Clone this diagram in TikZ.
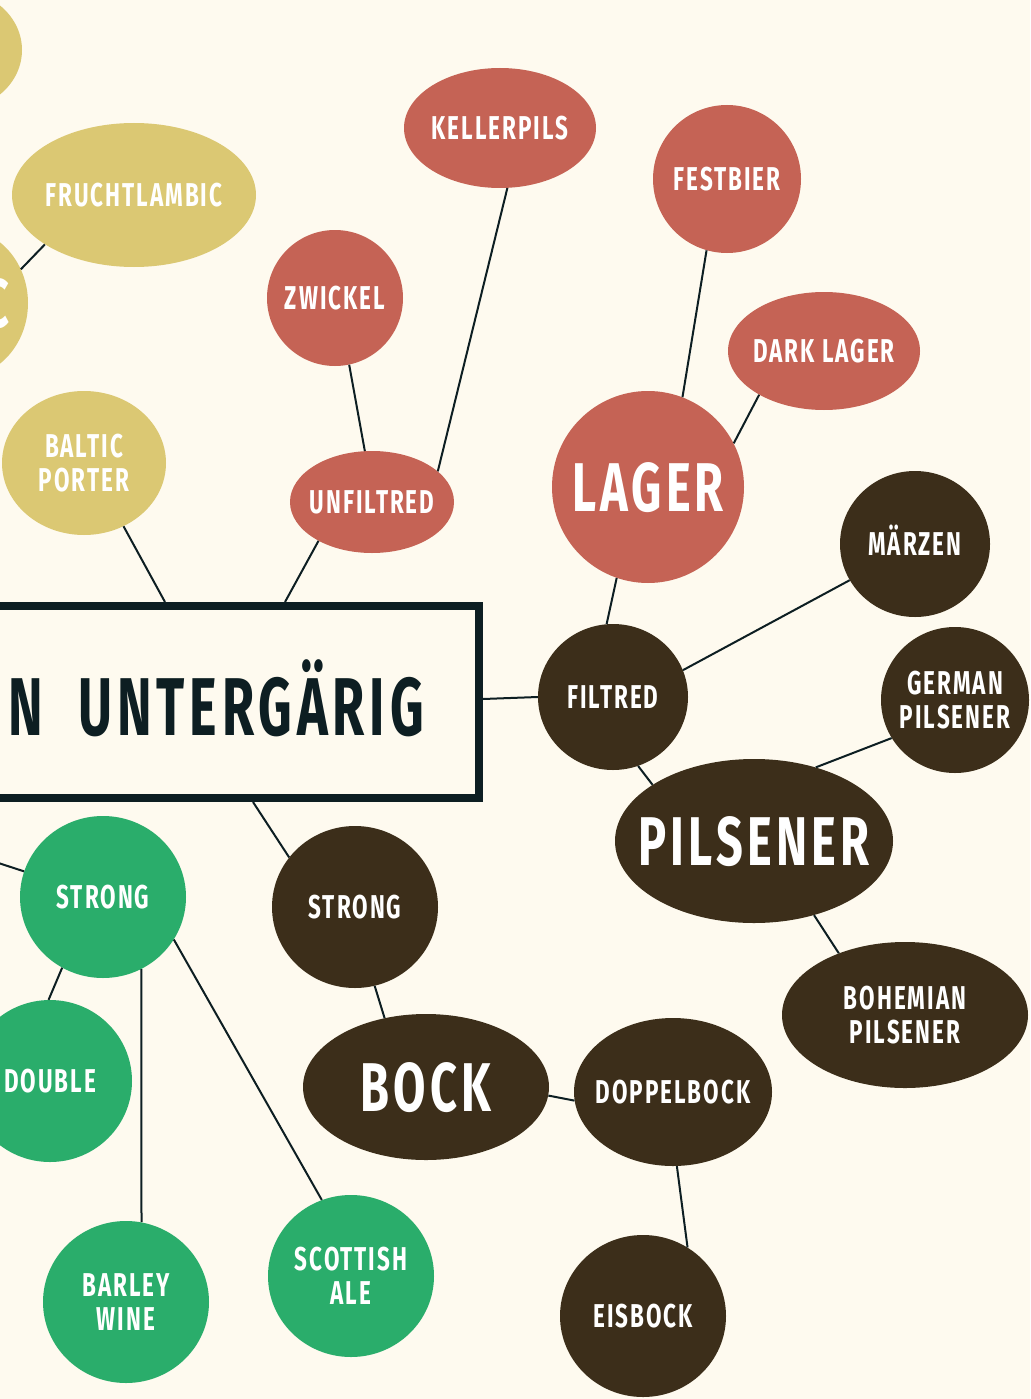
\documentclass[tikz,border=0pt]{standalone}
\usepackage{fontspec}
\newfontfamily\beer{Fira Sans}[FakeStretch=0.68,LetterSpace=6]
\newfontfamily\titelfont{Fira Sans}[FakeStretch=0.636,LetterSpace=6]
\usepackage{xcolor}
\usetikzlibrary{shapes.geometric}

\definecolor{grund}{HTML}{FEFAEF}
\definecolor{hefegelb}{HTML}{DBC873}
\definecolor{lagerrot}{HTML}{C56355}
\definecolor{malzbraun}{HTML}{3C2E1A}
\definecolor{alegruen}{HTML}{2AAD6B}
\definecolor{linie}{HTML}{0D1E22}

\newcommand{\mitte}[1]{\makebox[0pt]{#1}}

\begin{document}
\begin{tikzpicture}[x=1pt, y=-1pt,
	sorte/.style={ellipse, inner sep=0pt, text=white, align=center,
		font=\beer\bfseries\fontsize{33}{34}\selectfont, text height=23pt, text depth=0pt},
	zweizeilig/.style={text height=57pt, text depth=0pt},
	gross/.style={font=\beer\bfseries\fontsize{69}{70}\selectfont, text height=48pt},
	hell/.style={sorte, fill=hefegelb},
	rot/.style={sorte, fill=lagerrot},
	dunkel/.style={sorte, fill=malzbraun},
	gruen/.style={sorte, fill=alegruen},
	ast/.style={draw=linie, line width=2pt}]
	\useasboundingbox (0,0) rectangle (1030,1399);
	\clip (0,0) rectangle (1030,1399);
	\fill[grund] (0,0) rectangle (1030,1399);
	
	% Kasten in der Mitte
	\node[draw=linie, line width=8pt, fill=grund, inner sep=0pt, minimum width=798pt, minimum height=192pt] (box) at (80,702) {};
	\node[anchor=base east, text=linie, inner sep=0pt, font=\titelfont\bfseries\fontsize{82}{84}\selectfont] (titel) at (424,735) {N\hspace{18pt} UNTERGÄRIG};
	
	% Obergaerig / Lambic (gelb)
	\node[hell, minimum width=134pt, minimum height=120pt] (ecke) at (-45,50) {};
	\node[hell, gross, minimum width=136pt, minimum height=150pt] (lambic) at (-40,303) {\rlap{\kern23pt C}};
	\node[hell, minimum width=244pt, minimum height=144pt] (frucht) at (134,195) {\mitte{FRUCHTLAMBIC}};
	\node[hell, zweizeilig, minimum width=164pt, minimum height=144pt] (baltic) at (84,463) {\mitte{BALTIC}\\\mitte{PORTER}};
	
	% Lager (rot)
	\node[rot, minimum width=192pt, minimum height=120pt] (keller) at (500,128) {\mitte{KELLERPILS}};
	\node[rot, minimum width=136pt, minimum height=136pt] (zwickel) at (335,298) {\mitte{ZWICKEL}};
	\node[rot, minimum width=164pt, minimum height=102pt] (unfiltred) at (372,502) {\mitte{UNFILTRED}};
	\node[rot, minimum width=148pt, minimum height=148pt] (fest) at (727,179) {\mitte{FESTBIER}};
	\node[rot, minimum width=192pt, minimum height=118pt] (dark) at (824,351) {\mitte{DARK LAGER}};
	\node[rot, gross, minimum width=192pt, minimum height=192pt] (lager) at (648,487) {\mitte{LAGER}};
	
	% Filtriert, Pils, Bock (braun)
	\node[dunkel, minimum width=150pt, minimum height=146pt] (maerzen) at (915,544) {\mitte{MÄRZEN}};
	\node[dunkel, minimum width=150pt, minimum height=146pt] (filtred) at (613,697) {\mitte{FILTRED}};
	\node[dunkel, zweizeilig, minimum width=148pt, minimum height=146pt] (german) at (955,700) {\mitte{GERMAN}\\\mitte{PILSENER}};
	\node[dunkel, gross, minimum width=278pt, minimum height=164pt] (pils) at (754,841) {\mitte{PILSENER}};
	\node[dunkel, zweizeilig, minimum width=246pt, minimum height=146pt] (bohem) at (905,1015) {\mitte{BOHEMIAN}\\\mitte{PILSENER}};
	\node[dunkel, minimum width=166pt, minimum height=162pt] (starkb) at (355,907) {\mitte{STRONG}};
	\node[dunkel, gross, minimum width=246pt, minimum height=146pt] (bock) at (426,1087) {\mitte{BOCK}};
	\node[dunkel, minimum width=198pt, minimum height=148pt] (doppel) at (673,1092) {\mitte{DOPPELBOCK}};
	\node[dunkel, minimum width=166pt, minimum height=162pt] (eis) at (643,1316) {\mitte{EISBOCK}};
	
	% Ale (gruen)
	\node[gruen, minimum width=166pt, minimum height=162pt] (starkg) at (103,897) {\mitte{STRONG}};
	\node[gruen, minimum width=164pt, minimum height=162pt] (double) at (50,1081) {\mitte{DOUBLE}};
	\node[gruen, zweizeilig, minimum width=166pt, minimum height=162pt] (barley) at (126,1302) {\mitte{BARLEY}\\\mitte{WINE}};
	\node[gruen, zweizeilig, minimum width=166pt, minimum height=162pt] (scottish) at (351,1276) {\mitte{SCOTTISH}\\\mitte{ALE}};
	\coordinate (links) at (-20,857);
	
	% Verbindungen
	\draw[ast] (lambic.29) -- (frucht.209);
	\draw[ast] (baltic.-58) -- ([xshift=85pt]box.north);
	\draw[ast] (unfiltred.216) -- ([xshift=205pt]box.north);
	\draw[ast] (zwickel.-78) -- (unfiltred.98);
	\draw[ast] (keller.-83) -- (unfiltred.25);
	\draw[ast] (fest.-106) -- (lager.69);
	\draw[ast] (dark.214) -- (lager.27);
	\draw[ast] (lager.-109) -- (filtred.95);
	\draw[ast] ([yshift=3pt]box.east) -- (filtred.west);
	\draw[ast] (filtred.21) -- (maerzen.209);
	\draw[ast] (filtred.-70) -- (pils.151);
	\draw[ast] (pils.50) -- (german.211);
	\draw[ast] (pils.-51) -- (bohem.137);
	\draw[ast] ([xshift=173pt]box.south) -- (starkb.143);
	\draw[ast] (starkb.-76) -- (bock.121);
	\draw[ast] (bock.-4) -- (doppel.185);
	\draw[ast] (doppel.-87) -- (eis.57);
	\draw[ast] (starkg.162) -- (links);
	\draw[ast] (starkg.-120) -- (double.91);
	\draw[ast] (starkg.-62) -- (barley.79);
	\draw[ast] (starkg.-31) -- (scottish.111);
\end{tikzpicture}
\end{document}
